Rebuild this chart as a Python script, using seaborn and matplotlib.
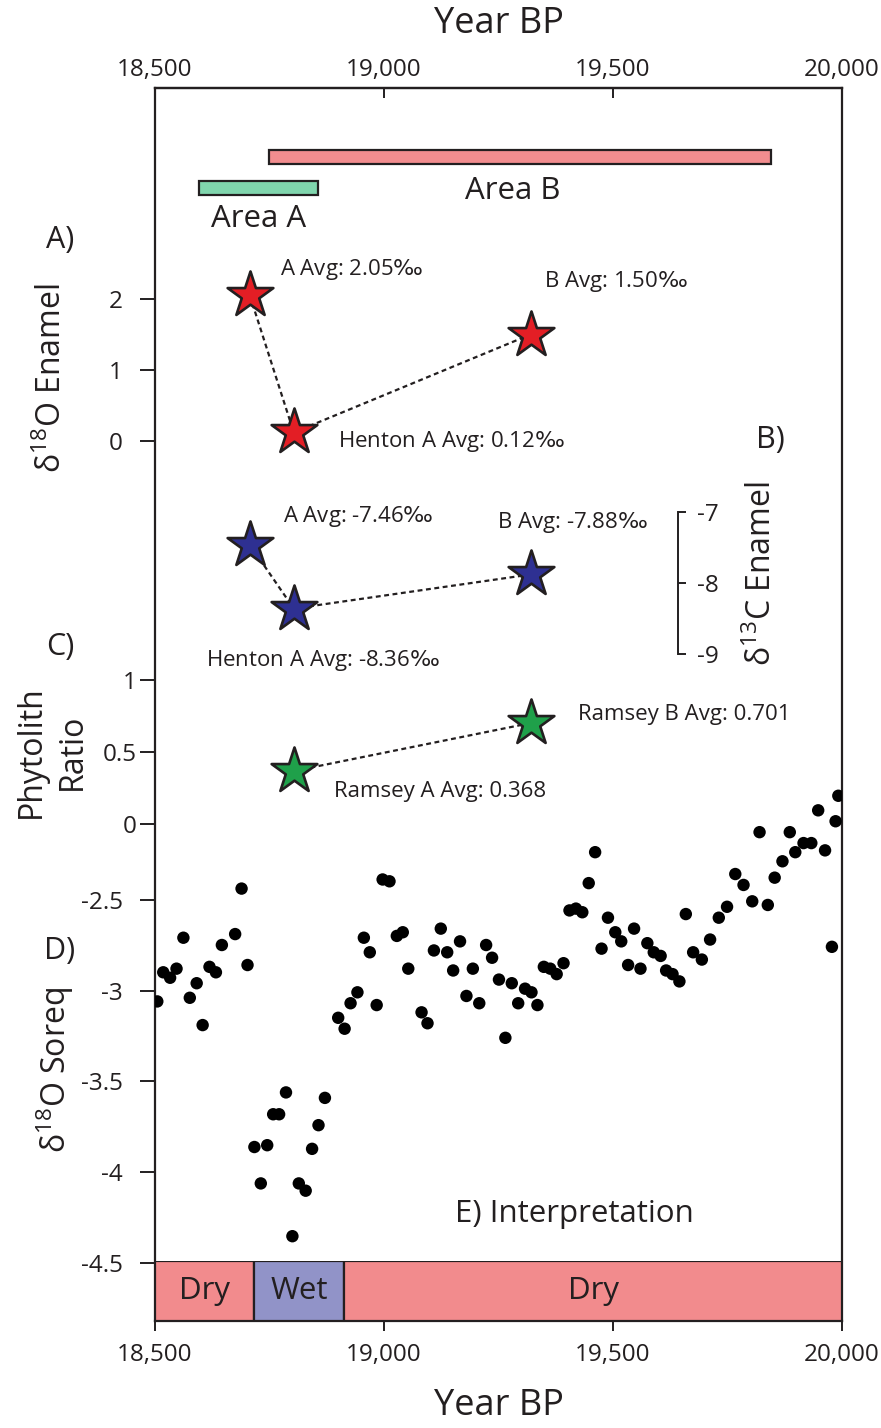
import numpy as np
import pandas as pd
import matplotlib
matplotlib.use('Agg')
import matplotlib.pyplot as plt
import seaborn as sns

# Soreq cave d18O record (Year BP, permil)
soreq_year = [18505, 18518, 18533, 18547, 18562, 18576, 18591, 18604, 18619, 18633,
              18646, 18675, 18689, 18702, 18717, 18731, 18745, 18758, 18771, 18786,
              18800, 18814, 18829, 18843, 18857, 18871, 18900, 18914, 18927, 18942,
              18956, 18969, 18984, 18997, 19012, 19028, 19041, 19053, 19082, 19095,
              19109, 19124, 19138, 19151, 19166, 19180, 19194, 19208, 19223, 19236,
              19251, 19265, 19279, 19293, 19308, 19322, 19335, 19349, 19363, 19377,
              19392, 19405, 19419, 19433, 19447, 19461, 19475, 19489, 19505, 19518,
              19533, 19546, 19560, 19575, 19589, 19604, 19616, 19630, 19645, 19659,
              19675, 19694, 19712, 19731, 19749, 19767, 19785, 19804, 19820, 19838,
              19853, 19870, 19886, 19898, 19916, 19933, 19948, 19963, 19978, 19986,
              19992]
soreq_d18o = [-3.06, -2.90, -2.93, -2.88, -2.71, -3.04, -2.96, -3.19, -2.87, -2.90,
              -2.75, -2.69, -2.44, -2.86, -3.86, -4.06, -3.85, -3.68, -3.68, -3.56,
              -4.35, -4.06, -4.10, -3.87, -3.74, -3.59, -3.15, -3.21, -3.07, -3.01,
              -2.71, -2.79, -3.08, -2.39, -2.40, -2.70, -2.68, -2.88, -3.12, -3.18,
              -2.78, -2.66, -2.79, -2.89, -2.73, -3.03, -2.88, -3.07, -2.75, -2.82,
              -2.94, -3.26, -2.96, -3.07, -2.99, -3.01, -3.08, -2.87, -2.88, -2.91,
              -2.85, -2.56, -2.55, -2.57, -2.41, -2.24, -2.77, -2.60, -2.68, -2.73,
              -2.86, -2.66, -2.88, -2.74, -2.79, -2.81, -2.89, -2.91, -2.95, -2.58,
              -2.79, -2.83, -2.72, -2.60, -2.54, -2.36, -2.42, -2.51, -2.13, -2.53,
              -2.38, -2.29, -2.13, -2.24, -2.19, -2.19, -2.01, -2.23, -2.76, -2.07,
              -1.93]

# enamel averages
site_names = ['A', 'Henton A', 'B']
site_year = [18707, 18803, 19320]
enamel_d18o = [2.05, 0.12, 1.50]
enamel_d13c = [-7.46, -8.36, -7.88]

# phytolith ratios
phyto_names = ['Ramsey A', 'Ramsey B']
phyto_year = [18803, 19320]
phyto_ratio = [0.368, 0.701]

# occupation ranges
area_names = ['Area A', 'Area B']
area_start = [18596, 18749]
area_end = [18856, 19845]

# interpretation strip
interp_labels = ['Dry', 'Wet', 'Dry']
interp_start = [18500, 18717, 18913]
interp_end = [18717, 18913, 20000]

year_ticks = [18500, 19000, 19500, 20000]

W, H = 881, 1428
LEFT, RIGHT, TOP, BOTTOM = 155, 842, 88, 1321
INK = '#231f20'
PERMIL = r'$\mathsf{‰}$'

sns.set_theme(style='white')
plt.rcParams['font.family'] = ['Open Sans', 'DejaVu Sans']
plt.rcParams['mathtext.fontset'] = 'custom'
plt.rcParams['mathtext.rm'] = 'Open Sans'
plt.rcParams['mathtext.it'] = 'Open Sans'
plt.rcParams['mathtext.sf'] = 'DejaVu Sans'
plt.rcParams['text.color'] = INK
plt.rcParams['axes.edgecolor'] = INK
plt.rcParams['xtick.color'] = INK
plt.rcParams['ytick.color'] = INK

fig = plt.figure(figsize=(W / 100, H / 100), dpi=100)


def px_axes(left, top, right, bottom):
    return fig.add_axes([left / W, 1 - bottom / H, (right - left) / W, (bottom - top) / H])


def fig_text(x, y, s, **kw):
    return fig.text(x / W, 1 - y / H, s, **kw)


def panel_axes(ylim):
    a = px_axes(LEFT, TOP, RIGHT, BOTTOM)
    a.patch.set_visible(False)
    a.set_xlim(18500, 20000)
    a.set_ylim(*ylim)
    a.set_xticks([])
    for sp in a.spines.values():
        sp.set_visible(False)
    return a


TICK_FS = 17.5
NOTE_FS = 16

# outer frame, y in pixel rows (for the range bars)
frame = px_axes(LEFT, TOP, RIGHT, BOTTOM)
frame.set_xlim(18500, 20000)
frame.set_ylim(BOTTOM, TOP)
frame.set_yticks([])
for sp in frame.spines.values():
    sp.set_linewidth(1.6)
tick_lbls = [f'{t:,}' for t in year_ticks]
frame.set_xticks(year_ticks)
frame.set_xticklabels(tick_lbls, fontsize=TICK_FS)
frame.tick_params(axis='x', direction='out', length=7, width=1.4, pad=9, bottom=True)
top = frame.secondary_xaxis('top')
top.set_xticks(year_ticks)
top.set_xticklabels(tick_lbls, fontsize=TICK_FS)
top.tick_params(axis='x', direction='in', length=7, width=1.4, pad=4)
top.spines['top'].set_linewidth(1.6)
fig_text((LEFT + RIGHT) / 2, 24, 'Year BP', fontsize=26, ha='center', va='center')
fig_text((LEFT + RIGHT) / 2, 1406, 'Year BP', fontsize=26, ha='center', va='center')

# range bars
area_rows = [188, 157]
area_colors = ['#80d5ad', '#f28d8f']
for i in range(2):
    frame.barh(area_rows[i], area_end[i] - area_start[i], left=area_start[i], height=14,
               color=area_colors[i], edgecolor=INK, linewidth=1.6)
fig_text(259, 219, area_names[0], fontsize=22.5, ha='center', va='center')
fig_text(513, 191, area_names[1], fontsize=22.5, ha='center', va='center')

dash = (0, (2.2, 1.6))
star_kw = dict(marker='*', s=1200, edgecolor=INK, linewidth=1.9, zorder=3, legend=False)

# A) d18O enamel
axA = panel_axes((-12.394, 4.972))
sns.lineplot(x=site_year, y=enamel_d18o, ax=axA, color=INK, lw=1.6, sort=False)
axA.lines[0].set_linestyle(dash)
sns.scatterplot(x=site_year, y=enamel_d18o, ax=axA, color='#e31e25', **star_kw)
axA.set_yticks([0, 1, 2])
axA.set_yticklabels(['0', '1', '2'], fontsize=TICK_FS)
axA.tick_params(axis='y', direction='out', length=11, width=1.4, pad=12, left=True)
offsA = [(30, 26), (44, -9), (13, 53)]
for i in range(3):
    axA.annotate(f'{site_names[i]} Avg: {enamel_d18o[i]:.2f}' + PERMIL,
                 (site_year[i], enamel_d18o[i]), xytext=offsA[i], textcoords='offset pixels',
                 fontsize=NOTE_FS, ha='left', va='center')

# B) d13C enamel
axB = panel_axes((-18.394, -1.028))
sns.lineplot(x=site_year, y=enamel_d13c, ax=axB, color=INK, lw=1.6, sort=False)
axB.lines[0].set_linestyle(dash)
sns.scatterplot(x=site_year, y=enamel_d13c, ax=axB, color='#2e3092', **star_kw)
axB.yaxis.tick_right()
axB.spines['right'].set_visible(True)
axB.spines['right'].set_position(('data', 19642))
axB.spines['right'].set_bounds(-9, -7)
axB.spines['right'].set_linewidth(1.4)
axB.set_yticks([-9, -8, -7])
axB.set_yticklabels(['-9', '-8', '-7'], fontsize=TICK_FS)
axB.tick_params(axis='y', direction='out', length=6, width=1.4, pad=8, right=True)
offsB = [(33, 28), (-88, -52), (-34, 52)]
for i in range(3):
    axB.annotate(f'{site_names[i]} Avg: {enamel_d13c[i]:.2f}' + PERMIL,
                 (site_year[i], enamel_d13c[i]), xytext=offsB[i], textcoords='offset pixels',
                 fontsize=NOTE_FS, ha='left', va='center')

# C) phytolith ratio
axC = panel_axes((-3.451, 5.111))
sns.lineplot(x=phyto_year, y=phyto_ratio, ax=axC, color=INK, lw=1.6, sort=False)
axC.lines[0].set_linestyle(dash)
sns.scatterplot(x=phyto_year, y=phyto_ratio, ax=axC, color='#1fa04a', **star_kw)
axC.set_yticks([0, 0.5, 1])
axC.set_yticklabels(['0', '0.5', '1'], fontsize=TICK_FS)
axC.tick_params(axis='y', direction='out', length=11, width=1.4, pad=2, left=True)
offsC = [(40, -20), (47, 9)]
for i in range(2):
    axC.annotate(f'{phyto_names[i]} Avg: {phyto_ratio[i]:.3f}', (phyto_year[i], phyto_ratio[i]),
                 xytext=offsC[i], textcoords='offset pixels', fontsize=NOTE_FS,
                 ha='left', va='center')

# D) Soreq d18O
axD = panel_axes((-4.816, 1.959))
sns.scatterplot(x=soreq_year, y=soreq_d18o, ax=axD, color='black', s=80, edgecolor='none',
                legend=False)
axD.set_yticks([-4.5, -4, -3.5, -3, -2.5])
axD.set_yticklabels(['-4.5', '-4', '-3.5', '-3', '-2.5'], fontsize=TICK_FS)
axD.tick_params(axis='y', direction='out', length=11, width=1.4, pad=12, left=True)

# E) interpretation strip
axE = px_axes(LEFT, 1261, RIGHT, BOTTOM)
axE.set_xlim(18500, 20000)
axE.set_ylim(0, 1)
axE.axis('off')
strip_colors = {'Dry': '#f28b8d', 'Wet': '#9193c8'}
for lab, s, e in zip(interp_labels, interp_start, interp_end):
    axE.barh(0.5, e - s, left=s, height=1, color=strip_colors[lab], edgecolor=INK, linewidth=1.6)
    axE.text((s + e) / 2, 0.5, lab, fontsize=22.5, ha='center', va='center')

# panel labels
fig_text(60, 240, 'A)', fontsize=22, ha='center', va='center')
fig_text(52, 378, 'δ$^{18}$O Enamel', fontsize=23, rotation=90, ha='center', va='center')
fig_text(770, 440, 'B)', fontsize=22, ha='center', va='center')
fig_text(762, 574, 'δ$^{13}$C Enamel', fontsize=23, rotation=90, ha='center', va='center')
fig_text(60, 647, 'C)', fontsize=22, ha='center', va='center')
fig_text(52, 752, 'Phytolith\nRatio', fontsize=23, rotation=90, ha='center', va='center',
         multialignment='center', linespacing=1.3)
fig_text(60, 951, 'D)', fontsize=22, ha='center', va='center')
fig_text(55, 1070, 'δ$^{18}$O Soreq', fontsize=23, rotation=90, ha='center', va='center')
fig_text(455, 1214, 'E) Interpretation', fontsize=22.5, ha='left', va='center')

fig.savefig('out.png', dpi=100)
